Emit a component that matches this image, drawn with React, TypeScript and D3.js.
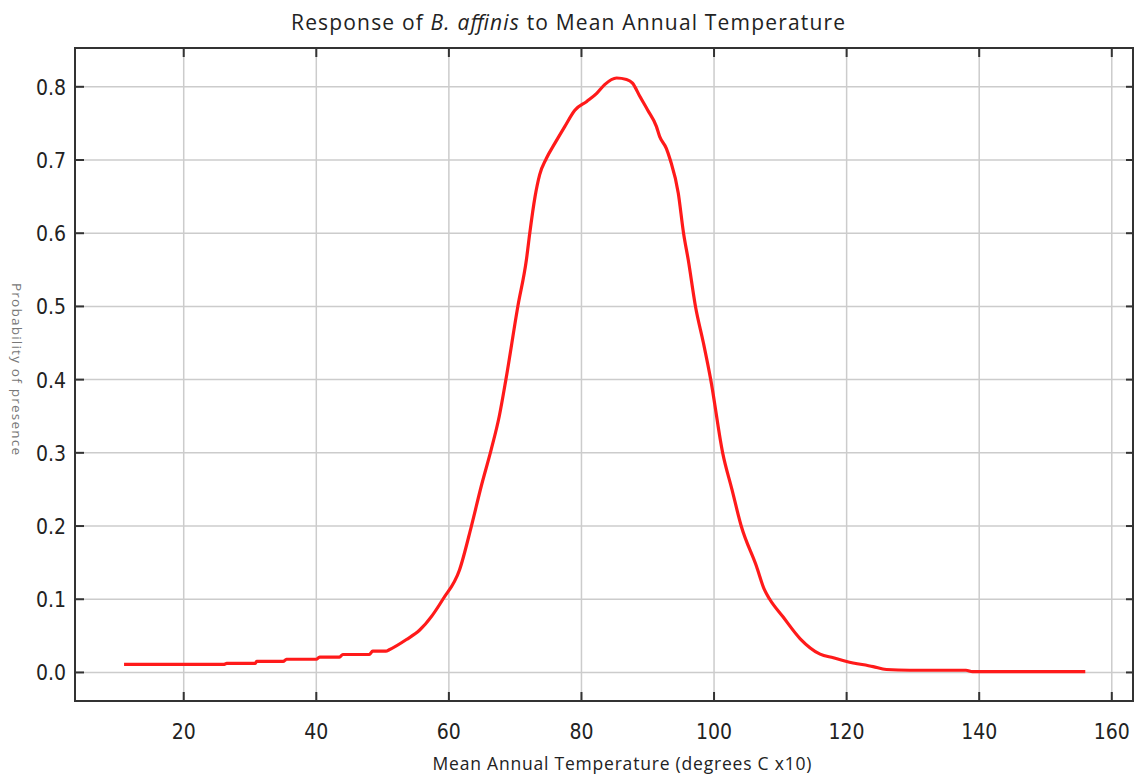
import React from "react";
import * as d3 from "d3";

// response curve
const temps = [
  11, 26, 26.5, 30.8, 31, 35, 35.5, 40, 40.5, 43.5, 44, 48, 48.5, 50.5, 51,
  53.6, 55.6, 57.5, 59.1, 61.6, 63.4, 64.9, 66.4, 67.6, 68.6, 70.4, 71.7,
  72.2, 73, 73.7, 74.7, 76, 77.5, 79, 80.8, 82.3, 83.5, 85.3, 86.8, 87.7,
  88.8, 90, 91.3, 91.8, 92.8, 93.4, 94.6, 95.4, 96.1, 97.2, 98.4, 99.5,
  101.3, 102.7, 104.1, 106.4, 107.6, 108.4, 110.4, 113, 116, 118, 120, 124,
  126, 129.5, 138, 139, 156,
];
const probs = [
  0.011, 0.011, 0.0123, 0.0123, 0.015, 0.015, 0.018, 0.018, 0.021, 0.021,
  0.0245, 0.0245, 0.029, 0.029, 0.031, 0.045, 0.058, 0.078, 0.1, 0.14, 0.2,
  0.255, 0.305, 0.35, 0.4, 0.5, 0.564, 0.6, 0.65, 0.68, 0.702, 0.723, 0.746,
  0.768, 0.78, 0.791, 0.803, 0.812, 0.81, 0.805, 0.787, 0.768, 0.746, 0.732,
  0.716, 0.7, 0.655, 0.6, 0.564, 0.5, 0.45, 0.4, 0.3, 0.25, 0.2, 0.145,
  0.113, 0.1, 0.076, 0.046, 0.025, 0.02, 0.015, 0.008, 0.004, 0.003, 0.003,
  0.001, 0.001,
];

const xTicks = [20, 40, 60, 80, 100, 120, 140, 160];
const yTicks = [0, 0.1, 0.2, 0.3, 0.4, 0.5, 0.6, 0.7, 0.8];

const W = 1134;
const H = 777;
const left = 75;
const right = 1133;
const top = 48;
const bottom = 701;

export default function App() {
  const x = d3.scaleLinear().domain([3.6, 163.2]).range([left, right]);
  const y = d3.scaleLinear().domain([-0.039, 0.853]).range([bottom, top]);

  const pts = temps.map((t, i) => [t, probs[i]] as [number, number]);
  const line = d3
    .line<[number, number]>()
    .x((d) => x(d[0]))
    .y((d) => y(d[1]))
    .curve(d3.curveMonotoneX);

  const tickFont = "'DejaVu Sans Condensed', 'DejaVu Sans', sans-serif";
  const textFont = "'Open Sans', sans-serif";

  return (
    <svg
      width={W}
      height={H}
      style={{ position: "absolute", left: 0, top: 0, background: "#fff" }}
    >
      {/* grid */}
      {xTicks.map((t) => (
        <line
          key={"gx" + t}
          x1={x(t)}
          x2={x(t)}
          y1={top}
          y2={bottom}
          stroke="#cccccc"
          strokeWidth={1.5}
        />
      ))}
      {yTicks.map((t) => (
        <line
          key={"gy" + t}
          x1={left}
          x2={right}
          y1={y(t)}
          y2={y(t)}
          stroke="#cccccc"
          strokeWidth={1.5}
        />
      ))}

      {/* frame */}
      <rect
        x={left}
        y={top}
        width={right - left}
        height={bottom - top}
        fill="none"
        stroke="#333"
        strokeWidth={2}
      />

      {/* ticks */}
      {xTicks.map((t) => (
        <g key={"tx" + t}>
          <line x1={x(t)} x2={x(t)} y1={bottom} y2={bottom - 9} stroke="#333" strokeWidth={2} />
          <line x1={x(t)} x2={x(t)} y1={top} y2={top + 9} stroke="#333" strokeWidth={2} />
          <text
            x={x(t)}
            y={739}
            textAnchor="middle"
            fontFamily={tickFont}
            fontSize={21}
            fill="#222"
          >
            {t}
          </text>
        </g>
      ))}
      {yTicks.map((t) => (
        <g key={"ty" + t}>
          <line x1={left} x2={left + 9} y1={y(t)} y2={y(t)} stroke="#333" strokeWidth={2} />
          <line x1={right} x2={right - 7} y1={y(t)} y2={y(t)} stroke="#333" strokeWidth={2} />
          <text
            x={66}
            y={y(t) + 8}
            textAnchor="end"
            fontFamily={tickFont}
            fontSize={21}
            fill="#222"
          >
            {d3.format(".1f")(t)}
          </text>
        </g>
      ))}

      {/* curve */}
      <path d={line(pts) ?? ""} fill="none" stroke="#ff1a1a" strokeWidth={3.2} strokeLinejoin="round" />

      {/* titles */}
      <text
        x={568}
        y={30}
        textAnchor="middle"
        fontFamily={textFont}
        fontSize={21}
        textLength={554}
        lengthAdjust="spacing"
        fill="#222"
      >
        Response of <tspan fontStyle="italic">B. affinis</tspan> to Mean Annual Temperature
      </text>
      <text
        x={622}
        y={770}
        textAnchor="middle"
        fontFamily={textFont}
        fontSize={17.5}
        textLength={379}
        lengthAdjust="spacing"
        fill="#222"
      >
        Mean Annual Temperature (degrees C x10)
      </text>
      <text
        transform={`translate(12, ${369}) rotate(90)`}
        textAnchor="middle"
        fontFamily={textFont}
        fontSize={13.5}
        textLength={172}
        lengthAdjust="spacing"
        fill="#777"
      >
        Probability of presence
      </text>
    </svg>
  );
}
